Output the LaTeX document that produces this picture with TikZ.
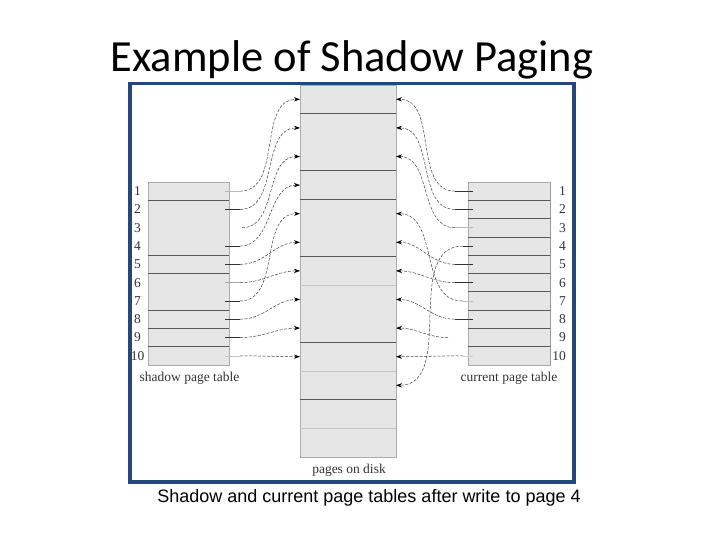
\documentclass[tikz,border=0pt]{standalone}
\usepackage{fontspec}
\setmainfont{Liberation Serif}
\newfontfamily\titlefont{Carlito}
\newfontfamily\capfont{Liberation Sans}
\usetikzlibrary{arrows.meta}
\definecolor{frameblue}{RGB}{36,72,122}
\definecolor{cellfill}{RGB}{230,230,230}
\begin{document}
\begin{tikzpicture}[x=1pt,y=-1pt,
  tbl/.style={draw=gray!65, fill=cellfill, line width=0.7pt, inner sep=0pt, outer sep=0pt},
  dk/.style={draw=black!65, line width=0.7pt},
  lt/.style={draw=gray!45, line width=0.7pt},
  ptr/.style={draw=black!75, line width=0.5pt, dash pattern=on 3pt off 1.5pt,
    -{Stealth[length=6pt,width=4.2pt,black]}},
  lbl/.style={font=\fontsize{13.5}{15}\selectfont, text=black!80, inner sep=0pt},
]
\fill[white] (0,0) rectangle (720,540);
\useasboundingbox (0,0) rectangle (720,540);

% title and caption
\node[font=\titlefont\fontsize{44.5}{50}\selectfont] (title) at (352,60) {Example of Shadow Paging};
\node[font=\capfont\fontsize{18}{21}\selectfont] (caption) at (369,498) {Shadow and current page tables after write to page 4};

% pages on disk
\node[tbl, minimum width=96pt, minimum height=372pt, anchor=north west] (disk) at (300,85) {};
\foreach \k in {1,3,4,6,9,11} \draw[dk] (300,{85+28.6*\k}) -- (396,{85+28.6*\k});
\foreach \k in {7,10,12} \draw[lt] (300,{85+28.6*\k}) -- (396,{85+28.6*\k});
\node[lbl, anchor=north] (disklbl) at (349,464) {pages on disk};

% shadow page table
\node[tbl, minimum width=81pt, minimum height=183pt, anchor=north west] (shadow) at (148,182) {};
\foreach \k in {1,4,5,7,8,9} \draw[dk] (148,{182+18.3*\k}) -- (229,{182+18.3*\k});
\node[lbl, anchor=north] (shadowlbl) at (189.5,372) {shadow page table};

% current page table
\node[tbl, minimum width=82pt, minimum height=183pt, anchor=north west] (current) at (468,182) {};
\foreach \k in {1,...,9} \draw[dk] (468,{182+18.3*\k}) -- (550,{182+18.3*\k});
\draw[draw=gray!80, line width=1pt] (550,182) -- (550,365);
\node[lbl, anchor=north] (currentlbl) at (509,372) {current page table};

% row numbers
\foreach \i in {1,...,10} {
  \node[lbl] (sn\i) at (137.5,{182+18.3*(\i-0.5)}) {\i};
  \node[lbl, anchor=east] (cn\i) at (566,{182+18.3*(\i-0.5)}) {\i};
}

% shadow pointers
\foreach \r/\s/\sx/\col in {1/0/240/gray!55, 2/1/240/black!80, 3/2/242/none,
    4/3/240/black!80, 5/5/240/black!80, 6/6/240/gray!70, 7/4/240/black!80,
    8/7/240/black!80, 9/8/240/black!80, 10/9/240/gray!45} {
  \pgfmathsetmacro\yr{182+18.3*(\r-0.5)}
  \pgfmathsetmacro\ys{85+28.6*(\s+0.5)}
  \coordinate (ls\r) at (\sx,\yr);
  \coordinate (ld\r) at (300,\ys);
  \path[draw=\col, line width=0.7pt] (225,\yr) -- (ls\r);
  \draw[ptr] (ls\r) to[out=0,in=180] (ld\r);
}

% current pointers
\foreach \r/\s/\sx/\col in {1/0/455/black!80, 2/1/455/black!80, 3/2/455/gray!55,
    4/10/463/black!80, 5/5/455/black!80, 6/6/455/black!80, 7/4/462/gray!50,
    8/7/455/black!80, 9/8/448/none, 10/9/463/gray!40} {
  \pgfmathsetmacro\yr{182+18.3*(\r-0.5)}
  \pgfmathsetmacro\ys{85+28.6*(\s+0.5)}
  \coordinate (rs\r) at (\sx,\yr);
  \coordinate (rd\r) at (396,\ys);
  \path[draw=\col, line width=0.7pt] (473,\yr) -- (rs\r);
  \draw[ptr] (rs\r) to[out=180,in=0] (rd\r);
}

% frame
\draw[frameblue, line width=3.6pt] (130,83.5) rectangle (574,482);
\end{tikzpicture}
\end{document}
